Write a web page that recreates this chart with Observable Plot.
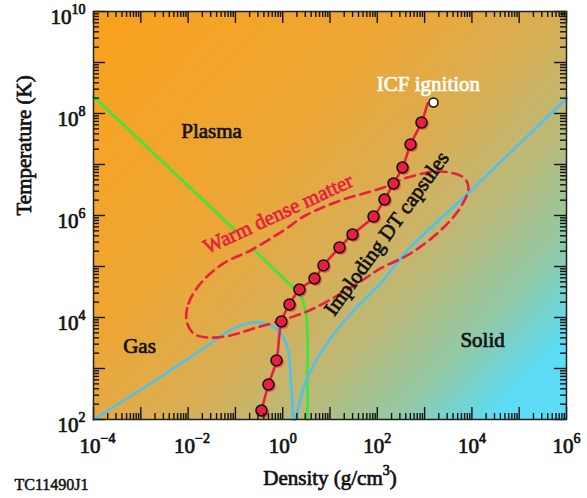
<!DOCTYPE html>
<html><head><meta charset="utf-8">
<script src="https://cdn.jsdelivr.net/npm/d3@7"></script>
<script src="https://cdn.jsdelivr.net/npm/@observablehq/plot@0.6"></script>
<style>body{margin:0;background:#fff}</style>
</head><body><div id="chart"></div>
<script>
// Implosion trajectory (density g/cm3, temperature K)
const trajDensity = [0.356, 0.50, 0.74, 0.94, 1.39, 2.26, 4.70, 7.29, 15.9, 29.9, 83.2, 142, 220, 341, 504, 859];
const trajTemp    = [150, 485, 1440, 8360, 1.8e4, 3.54e4, 5.82e4, 1.05e5, 2.36e5, 4.24e5, 9.55e5, 2.06e6, 4.24e6, 8.73e6, 2.47e7, 6.67e7];
const trajEndDensity = 1151, trajEndTemp = 1.57e8;
const ignitionDensity = [1542], ignitionTemp = [1.64e8];

// Warm dense matter region boundary (dashed)
const wdmDensity = [0.00925, 0.0102, 0.0183, 0.056, 0.208, 1.04, 3.03, 16.7, 135, 435, 2170, 6640, 8470, 5740, 2170, 504, 117, 38.1, 4.48, 1.46, 0.242, 0.0787, 0.0257, 0.013];
const wdmTemp    = [8730, 1.88e4, 4.65e4, 1.15e5, 2.06e5, 5.08e5, 1.0e6, 1.97e6, 3.54e6, 5.56e6, 7.29e6, 5.56e6, 3.54e6, 1.44e6, 5.08e5, 1.8e5, 9.14e4, 4.65e4, 1.5e4, 1.0e4, 6080, 4440, 4060, 4850];

// Plasma boundary (green)
const greenDensity = [1e-4, 0.111, 0.230, 2.16, 2.75, 3.18, 3.34, 3.34];
const greenTemp    = [2.15e8, 4.65e5, 2.25e5, 3.09e4, 2.06e4, 1.09e4, 4440, 100];
const greenSeg     = [0, 0, 1, 1, 1, 1, 1, 1];

// Gas / solid boundaries (blue)
const blueDensity = [1e-4, 0.0016, 0.0183, 0.0912, 0.242, 0.501, 0.815, 1.26, 1.48, 1.61, 1.65,
                     1.87, 2.51, 3.34, 6.3, 23.4, 117, 435, 6640, 1e6];
const blueTemp    = [100, 508, 2250, 6080, 7980, 7290, 5560, 2580, 630, 200, 100,
                     100, 316, 667, 2000, 1e4, 4.65e4, 2.06e5, 2.25e6, 1.97e8];
const blueSeg     = [0,0,0,0,0,0,0,0,0,0,0, 1,1,1,1,1,1,1,1,1];

// Region labels
const labelText    = ["Plasma", "Gas", "Solid", "ICF ignition"];
const labelDensity = [0.0313, 9.4e-4, 1.68e4, 1208];
const labelTemp    = [4.4e7, 2.7e3, 3.54e3, 3.7e8];
const labelColor   = ["#111", "#111", "#111", "#fff"];
const rotText    = ["Warm dense matter", "Imploding DT capsules"];
const rotDensity = [0.80, 156.6];
const rotTemp    = [1.08e6, 4.44e5];
const rotAngle   = [-25, -54];
const rotColor   = ["#e8203e", "#111"];

// Axes
const xDecades = [1e-4,1e-3,1e-2,1e-1,1,1e1,1e2,1e3,1e4,1e5,1e6];
const yDecades = [1e2,1e3,1e4,1e5,1e6,1e7,1e8,1e9,1e10];
const xLabeled = [1e-4,1e-2,1,1e2,1e4,1e6];
const yLabeled = [1e2,1e4,1e6,1e8,1e10];
const minorMult = [2,3,4,5,6,7,8,9];
const xMinor = xDecades.slice(0,-1).flatMap(d => minorMult.map(k => k*d));
const yMinor = yDecades.slice(0,-1).flatMap(d => minorMult.map(k => k*d));

const traj = trajDensity.map((d,i)=>({x:d, y:trajTemp[i]}));
const trajLine = traj.concat([{x:trajEndDensity, y:trajEndTemp}]);
const wdm = wdmDensity.map((d,i)=>({x:d, y:wdmTemp[i]}));
const green = greenDensity.map((d,i)=>({x:d, y:greenTemp[i], s:greenSeg[i]}));
const blue = blueDensity.map((d,i)=>({x:d, y:blueTemp[i], s:blueSeg[i]}));
const labels = labelText.map((t,i)=>({t, x:labelDensity[i], y:labelTemp[i], c:labelColor[i]}));
const rlabels = rotText.map((t,i)=>({t, x:rotDensity[i], y:rotTemp[i], a:rotAngle[i], c:rotColor[i]}));

const W=587, H=498, mL=93, mR=21, mT=11, mB=79;
const pW = W-mL-mR, pH = H-mT-mB;
const tk = {stroke:"#111", strokeWidth:1.4};
const font = "Liberation Serif, Times New Roman, serif";
const heavy = {stroke:"#111", strokeWidth:0.7, fill:"#111"};
const expFmt = d => "10^{" + String(Math.round(Math.log10(d))).replace("-", "\u2212") + "}";

const chart = Plot.plot({
  width: W, height: H,
  marginLeft: mL, marginRight: mR, marginTop: mT, marginBottom: mB,
  style: {fontFamily: font, background: "#fff"},
  x: {type:"log", domain:[1e-4,1e6], axis:null},
  y: {type:"log", domain:[1e2,1e10], axis:null},
  marks: [
    Plot.frame({fill:"url(#bgGrad)"}),
    Plot.line(green, {x:"x", y:"y", z:"s", stroke:"#3ee63a", strokeWidth:2.6}),
    Plot.line(blue, {x:"x", y:"y", z:"s", stroke:"#4fc1ee", strokeWidth:2.6, curve:"catmull-rom"}),
    Plot.line(wdm, {x:"x", y:"y", stroke:"#e8203e", strokeWidth:2.6, strokeDasharray:"10,6", curve:"catmull-rom-closed"}),
    Plot.line(trajLine, {x:"x", y:"y", stroke:"#e8203e", strokeWidth:2.6, curve:"catmull-rom"}),
    Plot.dot(traj, {x:"x", y:"y", r:6, dx:1.5, dy:1.5, fill:"#e8203e", fillOpacity:0.55}),
    Plot.dot(traj, {x:"x", y:"y", r:5.5, fill:"#e8203e", stroke:"#111", strokeWidth:1.5}),
    Plot.dot(ignitionDensity.map((d,i)=>({x:d,y:ignitionTemp[i]})), {x:"x", y:"y", r:4.5, fill:"#fff", stroke:"#111", strokeWidth:1.5}),
    // ticks
    Plot.ruleX(xDecades, {...tk, insetTop:pH-12}),
    Plot.ruleX(xDecades, {...tk, insetBottom:pH-12}),
    Plot.ruleX(xMinor, {...tk, insetTop:pH-6}),
    Plot.ruleX(xMinor, {...tk, insetBottom:pH-6}),
    Plot.ruleY(yDecades, {...tk, insetRight:pW-12}),
    Plot.ruleY(yDecades, {...tk, insetLeft:pW-12}),
    Plot.ruleY(yMinor, {...tk, insetRight:pW-6}),
    Plot.ruleY(yMinor, {...tk, insetLeft:pW-6}),
    Plot.frame({stroke:"#222", strokeWidth:1.5}),
    // tick labels
    Plot.text(xLabeled, {x:d=>d, frameAnchor:"bottom", text:expFmt, textAnchor:"start", dx:-14, dy:26.3, lineAnchor:"middle", fontSize:21, ...heavy}),
    Plot.text(yLabeled, {y:d=>d, frameAnchor:"left", text:expFmt, textAnchor:"end", dx:-8, dy:5.3, lineAnchor:"middle", fontSize:21, ...heavy}),
    // axis titles
    Plot.text(["Temperature (K)"], {frameAnchor:"left", dx:-69, rotate:-90, lineAnchor:"middle", fontSize:21, ...heavy}),
    Plot.text(["Density (g/cm^{3})"], {frameAnchor:"bottom", dy:59, lineAnchor:"middle", fontSize:21, ...heavy}),
    Plot.text(["TC11490J1"], {frameAnchor:"bottom-left", dx:-79, dy:65.7, textAnchor:"start", lineAnchor:"middle", fontSize:16, ...heavy, strokeWidth:0.5}),
    // region labels
    Plot.text(labels, {x:"x", y:"y", text:"t", fill:"c", stroke:"c", strokeWidth:0.7, fontSize:21, lineAnchor:"middle"}),
    Plot.text(rlabels, {x:"x", y:"y", text:"t", fill:"c", stroke:"c", strokeWidth:0.7, rotate:"a", fontSize:21, lineAnchor:"middle"})
  ]
});

// gradient background definition
const ns = "http://www.w3.org/2000/svg";
const defs = document.createElementNS(ns, "defs");
defs.innerHTML = `<linearGradient id="bgGrad" x1="0" y1="0" x2="1" y2="0.8">
  <stop offset="0" stop-color="#f9a11c"/>
  <stop offset="0.4" stop-color="#eda635"/>
  <stop offset="0.6" stop-color="#d8ae55"/>
  <stop offset="0.75" stop-color="#b9ba7a"/>
  <stop offset="0.88" stop-color="#92c9a6"/>
  <stop offset="1" stop-color="#5cdcf5"/>
</linearGradient>`;
chart.insertBefore(defs, chart.firstChild);

// superscripts: "^{...}"
chart.querySelectorAll("text").forEach(el => {
  const s = el.textContent;
  if (!s.includes("^{")) return;
  el.textContent = "";
  const parts = s.split(/\^\{([^}]*)\}/);
  parts.forEach((p, i) => {
    if (p === "") return;
    const ts = document.createElementNS(ns, "tspan");
    ts.textContent = p;
    if (i % 2 === 1) { ts.setAttribute("font-size", "14"); ts.setAttribute("dy", "-10"); }
    else if (i > 0) { ts.setAttribute("dy", "10"); }
    el.appendChild(ts);
  });
});
document.getElementById("chart").appendChild(chart);
</script>
</body></html>
